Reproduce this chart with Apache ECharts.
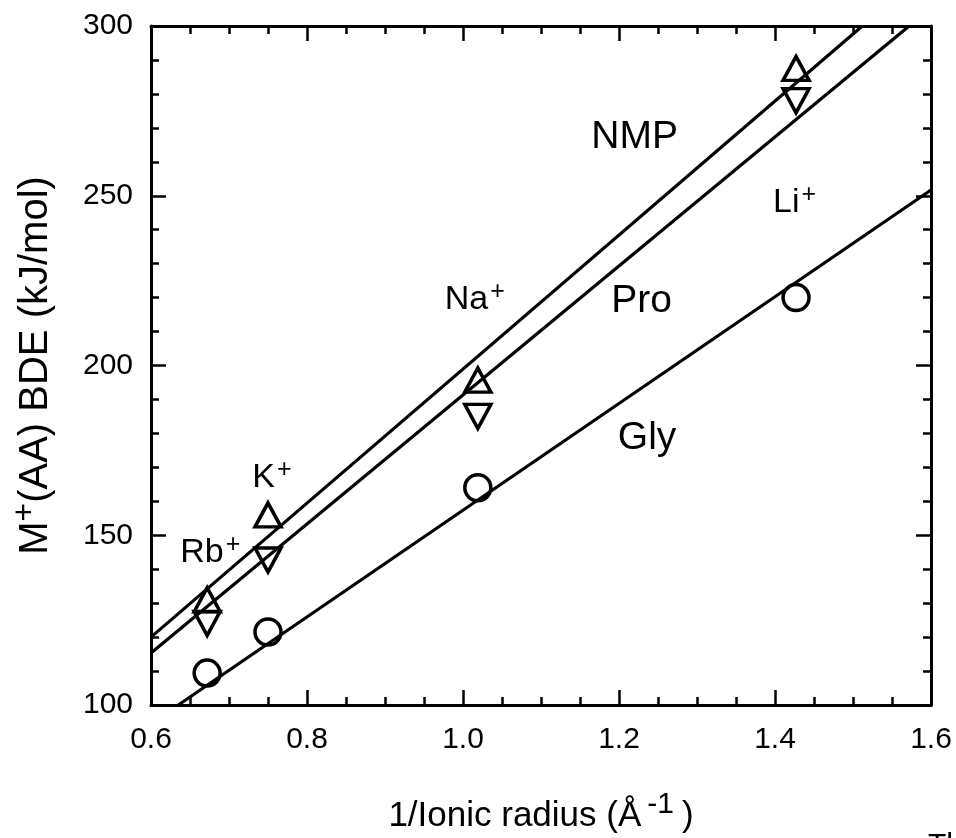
<!DOCTYPE html>
<html>
<head>
<meta charset="utf-8">
<script src="https://cdn.jsdelivr.net/npm/echarts@6/dist/echarts.min.js"></script>
<style>html,body{margin:0;padding:0;background:#fff;}#c{width:956px;height:838px;}</style>
</head>
<body>
<div id="c"></div>
<script>
// ---- data ----
var xTicks = [0.6, 0.8, 1.0, 1.2, 1.4, 1.6];
var yTicks = [100, 150, 200, 250, 300];
var glyPoints = [[0.672, 109.4], [0.75, 121.5], [1.019, 164], [1.427, 220]];
var nmpPoints = [[0.672, 131], [0.75, 156], [1.019, 195.7], [1.427, 287.5]];
var proPoints = [[0.672, 124], [0.75, 142.7], [1.019, 185], [1.427, 278]];
var nmpFit = [[0.6, 120], [1.512, 300]];
var proFit = [[0.6, 115.3], [1.572, 300]];
var glyFit = [[0.635, 100], [1.6, 251.7]];
var seriesLabels = [
  {name: 'NMP', x: 1.22, y: 267.3},
  {name: 'Pro', x: 1.229, y: 219.0},
  {name: 'Gly', x: 1.236, y: 178.5}
];
var ionLabels = [
  {ion: 'Rb', x: 0.676, y: 145},
  {ion: 'K', x: 0.755, y: 167},
  {ion: 'Na', x: 1.015, y: 219.3},
  {ion: 'Li', x: 1.425, y: 248}
];

var FONT = '"Liberation Sans", Arial, sans-serif';
var chart = echarts.init(document.getElementById('c'));

var axisLine = {show: true, lineStyle: {color: '#000', width: 3}};
function xAxisDef(pos, showLabels) {
  return {
    type: 'value', position: pos, min: 0.6, max: 1.6, interval: 0.2,
    axisLine: axisLine,
    axisTick: {show: true, inside: true, length: 15, lineStyle: {color: '#000', width: 2.5}},
    minorTick: {show: true, splitNumber: 4, length: 8, lineStyle: {color: '#000', width: 2.5}},
    splitLine: {show: false}, minorSplitLine: {show: false},
    axisLabel: {show: showLabels, margin: 20, color: '#000', fontSize: 30, fontFamily: FONT,
      formatter: function (v) { return v.toFixed(1); }}
  };
}
function yAxisDef(pos, showLabels) {
  return {
    type: 'value', position: pos, min: 100, max: 300, interval: 50,
    axisLine: axisLine,
    axisTick: {show: true, inside: true, length: 15, lineStyle: {color: '#000', width: 2.5}},
    minorTick: {show: true, splitNumber: 5, length: 8, lineStyle: {color: '#000', width: 2.5}},
    splitLine: {show: false}, minorSplitLine: {show: false},
    axisLabel: {show: showLabels, margin: 18, color: '#000', fontSize: 30, fontFamily: FONT}
  };
}

var xa = xAxisDef('bottom', true);
xa.name = '1/Ionic radius (Å{sup|-1})';
xa.nameLocation = 'middle';
xa.nameGap = 85;
xa.nameTextStyle = {color: '#000', fontSize: 35, lineHeight: 52, fontFamily: FONT,
  rich: {sup: {fontSize: 30, fontFamily: FONT, color: '#000', verticalAlign: 'top', lineHeight: 2, padding: [0, 8, 0, 6]}}};
var xb = xAxisDef('top', false);

var ya = yAxisDef('left', true);
ya.name = 'M{sup|+}(AA) BDE (kJ/mol)';
ya.nameLocation = 'middle';
ya.nameGap = 88;
ya.nameTextStyle = {color: '#000', fontSize: 40, lineHeight: 54, fontFamily: FONT,
  rich: {sup: {fontSize: 32, fontFamily: FONT, color: '#000', verticalAlign: 'top', lineHeight: 2}}};
var yb = yAxisDef('right', false);

function markerSeries(data, symbol, rotate) {
  return {
    type: 'scatter', xAxisIndex: 0, yAxisIndex: 0, data: data,
    symbol: symbol, symbolSize: symbol === 'circle' ? 26 : [26, 24], symbolRotate: rotate || 0,
    itemStyle: {color: 'rgba(0,0,0,0)', borderColor: '#000', borderWidth: 3.5, opacity: 1}, z: 3
  };
}
function fitSeries(data) {
  return {
    type: 'line', xAxisIndex: 0, yAxisIndex: 0, data: data, showSymbol: false, symbol: 'none',
    lineStyle: {color: '#000', width: 3.2}, z: 2, silent: true
  };
}
function labelSeries(data, fontSize) {
  return {
    type: 'scatter', xAxisIndex: 0, yAxisIndex: 0, symbolSize: 0, silent: true,
    itemStyle: {opacity: 1},
    data: data.map(function (d) { return {value: [d.x, d.y], name: d.name || d.ion, ion: d.ion}; }),
    label: {show: true, position: 'inside', color: '#000', fontFamily: FONT, fontSize: fontSize, lineHeight: 40,
      formatter: function (p) { return p.data.ion ? p.data.ion + '{sup|+}' : p.data.name; },
      rich: {sup: {fontSize: 25, fontFamily: FONT, color: '#000', verticalAlign: 'top', lineHeight: 2, padding: [0, 0, 0, 2]}}},
    z: 4
  };
}

chart.setOption({
  animation: false,
  backgroundColor: '#fff',
  grid: {left: 151, right: 25, top: 26, bottom: 133, containLabel: false, outerBoundsMode: 'none'},
  xAxis: [xa, xb],
  yAxis: [ya, yb],
  series: [
    fitSeries(nmpFit), fitSeries(proFit), fitSeries(glyFit),
    markerSeries(glyPoints, 'circle'),
    markerSeries(nmpPoints, 'triangle'),
    markerSeries(proPoints, 'triangle', 180),
    labelSeries(seriesLabels, 39),
    labelSeries(ionLabels, 34)
  ],
  graphic: [{type: 'text', left: 928, top: 831, style: {text: 'Th', fontSize: 30, fontFamily: FONT, fill: '#000'}}]
});
</script>
</body>
</html>
